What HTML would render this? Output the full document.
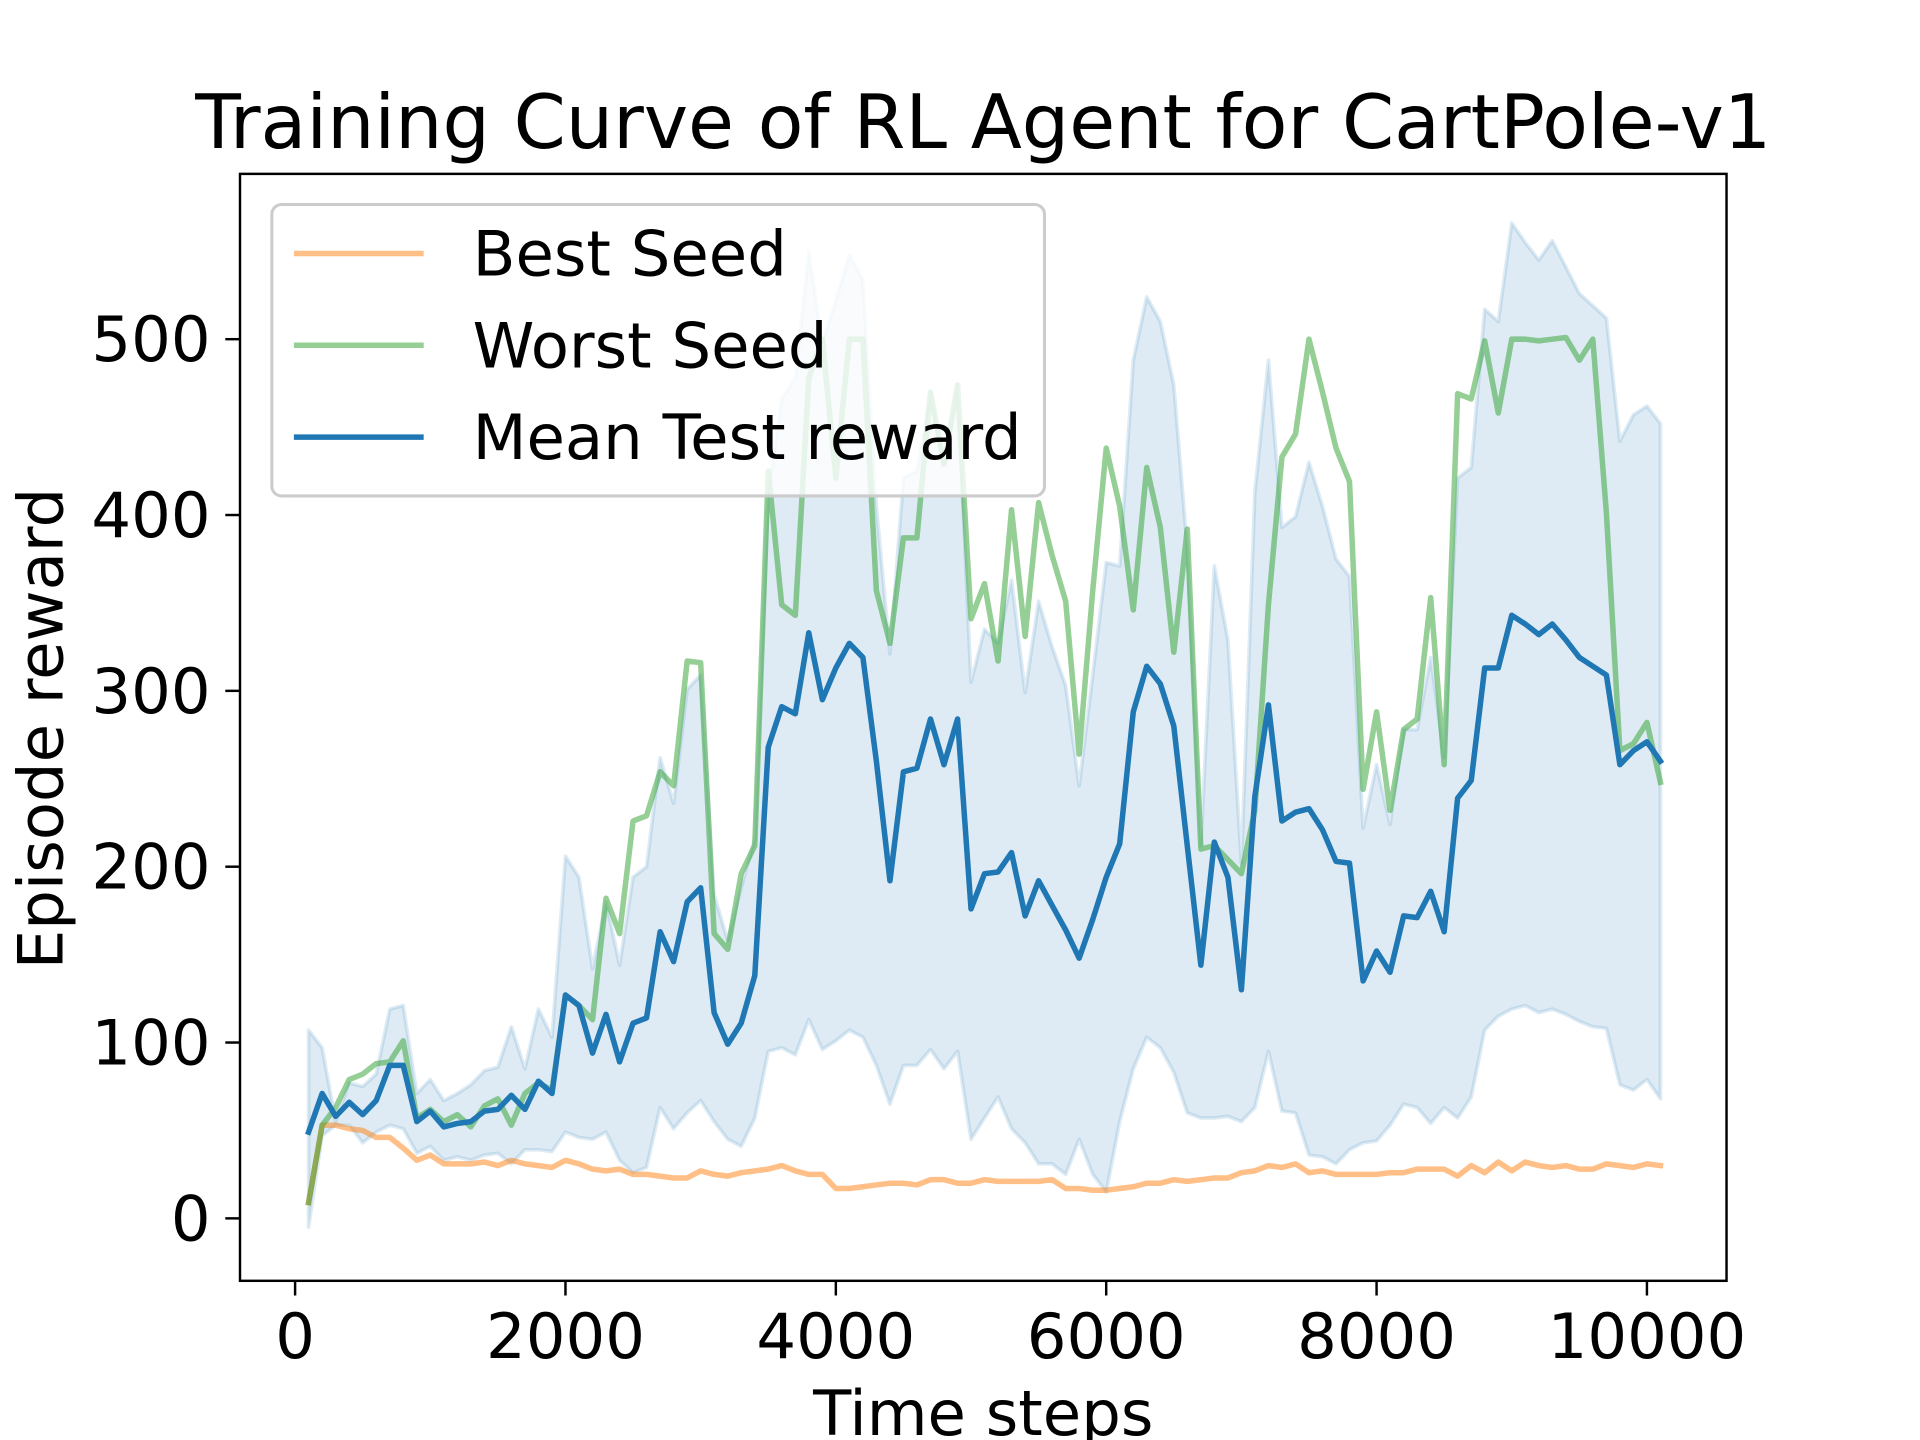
<!DOCTYPE html>
<html><head><meta charset="utf-8"><style>
html,body{margin:0;padding:0;background:#fff;}
svg{display:block;}
text{font-family:"DejaVu Sans","Liberation Sans",sans-serif;fill:#000;}
</style></head><body>
<svg id="chart" xmlns="http://www.w3.org/2000/svg" width="1920" height="1440" viewBox="0 0 1568 1176">
<rect x="0" y="0" width="1568" height="1176" fill="#fff"/>
<g id="plot"></g>
<text x="803" y="121" font-size="61" text-anchor="middle">Training Curve of RL Agent for CartPole-v1</text>
<text x="0" y="0" font-size="51" text-anchor="middle" transform="translate(51,595) rotate(-90)">Episode reward</text>
<text x="803" y="1172" font-size="51" text-anchor="middle">Time steps</text>
<g>
<rect x="222" y="167" width="631" height="238" rx="8" fill="#fff" fill-opacity="0.8" stroke="#cccccc" stroke-width="2.5"/>
<line x1="240" y1="207" x2="346" y2="207" stroke="#ffbf86" stroke-width="4.5"/>
<text x="386" y="225" font-size="51">Best Seed</text>
<line x1="240" y1="282" x2="346" y2="282" stroke="#95cf95" stroke-width="4.5"/>
<text x="386" y="300" font-size="51">Worst Seed</text>
<line x1="240" y1="357" x2="346" y2="357" stroke="#1f77b4" stroke-width="4.5"/>
<text x="386" y="375" font-size="51">Mean Test reward</text>
</g>
</svg>
<script>
const mean=[49,71,58,66,59,67,87,87,55,61,52,54,55,61,62,70,62,78,71,127,121,94,116,89,111,114,163,146,180,188,117,99,111,138,268,291,287,333,295,313,327,319,260,192,254,256,284,258,284,176,196,197,208,172,192,178,164,148,170,194,213,288,314,304,280,212,144,214,194,130,240,292,226,231,233,221,203,202,135,152,140,172,171,186,163,239,249,313,313,343,338,332,338,329,319,314,309,258,266,271,260];
const worst=[9,53,63,79,82,88,89,101,57,62,55,59,52,64,68,53,71,77,73,127,121,113,182,162,226,229,254,246,317,316,162,153,196,212,425,349,343,478,500,421,500,500,357,327,387,387,470,429,474,341,361,317,403,331,407,377,351,264,357,438,405,346,427,393,322,392,210,212,204,196,232,349,433,446,500,470,438,419,244,288,232,278,284,353,258,469,466,499,458,500,500,499,500,501,488,500,401,266,270,282,248];
const best=[9,53,53,51,50,46,46,40,33,36,31,31,31,32,30,33,31,30,29,33,31,28,27,28,25,25,24,23,23,27,25,24,26,27,28,30,27,25,25,17,17,18,19,20,20,19,22,22,20,20,22,21,21,21,21,22,17,17,16,16,17,18,20,20,22,21,22,23,23,26,27,30,29,31,26,27,25,25,25,25,26,26,28,28,28,24,30,26,32,27,32,30,29,30,28,28,31,30,29,31,30];
const upper=[107,97,55,77,75,82,119,121,71,79,67,71,76,84,86,109,85,119,103,206,194,142,180,144,194,200,262,236,301,309,184,158,188,216,413,466,478,550,498,522,548,534,405,321,421,425,470,429,474,305,335,327,363,299,351,325,303,246,309,373,371,488,524,510,474,381,212,371,329,202,413,488,393,399,430,405,375,365,222,258,224,278,278,319,262,421,427,517,510,566,555,545,556,541,526,519,512,442,457,462,452];
const lower=[-5,47,53,53,43,49,53,51,37,41,33,35,33,36,37,31,39,39,38,49,46,45,49,33,26,29,63,51,60,67,55,45,41,57,95,97,93,113,96,101,107,103,87,65,87,87,96,85,95,45,57,69,51,43,31,31,25,45,25,15,55,85,103,97,83,60,57,57,58,55,63,95,61,60,36,35,31,39,43,44,53,65,63,54,63,57,69,107,115,119,121,117,119,116,112,109,108,76,73,79,68];
const steps=mean.map((_,i)=>(i+1)*100);
const xTicks=[0,2000,4000,6000,8000,10000];
const yTicks=[0,100,200,300,400,500];
const xTickLabels=["0","2000","4000","6000","8000","10000"];
const yTickLabels=["0","100","200","300","400","500"];

const L=196,R=1410,T=142,B=1046;
const xs=v=>241+(v-0)*(1345-241)/10000;
const ys=v=>995-v*(995-277)/500;
const NS="http://www.w3.org/2000/svg";
const plot=document.getElementById('plot');
function mk(tag,attrs,parent){const e=document.createElementNS(NS,tag);for(const k in attrs)e.setAttribute(k,attrs[k]);(parent||plot).appendChild(e);return e;}

let d='M'+steps.map((s,i)=>xs(s).toFixed(1)+','+ys(upper[i]).toFixed(1)).join('L');
for(let i=steps.length-1;i>=0;i--)d+='L'+xs(steps[i]).toFixed(1)+','+ys(lower[i]).toFixed(1);
d+='Z';
const band=mk('path',{d:d,fill:'#1f77b4','fill-opacity':0.15,stroke:'#1f77b4','stroke-opacity':0.15,'stroke-width':3,'stroke-linejoin':'round'});



function line(arr,color,w,name){
  const p=mk('path',{d:'M'+steps.map((s,i)=>xs(s).toFixed(1)+','+ys(arr[i]).toFixed(1)).join('L'),fill:'none',stroke:color,'stroke-width':w,'stroke-linejoin':'round','stroke-linecap':'square'});
  
  
}
line(best,'#ff7f0e',4.5,'best-seed-line');
plot.lastChild.setAttribute('stroke-opacity','0.5');
line(worst,'#2ca02c',4.5,'worst-seed-line');
plot.lastChild.setAttribute('stroke-opacity','0.5');
line(mean,'#1f77b4',4.5,'mean-test-reward-line');

const frame=mk('rect',{x:L,y:T,width:R-L,height:B-T,fill:'none',stroke:'#000','stroke-width':2});



xTicks.forEach((v,i)=>{
  const t=mk('line',{x1:xs(v),y1:B,x2:xs(v),y2:B+12,stroke:'#000','stroke-width':2});
  
  
  const tx=mk('text',{x:xs(v),y:B+63,'font-size':51,'text-anchor':'middle'});
  tx.textContent=xTickLabels[i];
  
  
});
yTicks.forEach((v,i)=>{
  const t=mk('line',{x1:L-12,y1:ys(v),x2:L,y2:ys(v),stroke:'#000','stroke-width':2});
  
  
  const tx=mk('text',{x:L-24,y:ys(v)+18,'font-size':51,'text-anchor':'end'});
  tx.textContent=yTickLabels[i];
  
  
});
</script>
</body></html>
